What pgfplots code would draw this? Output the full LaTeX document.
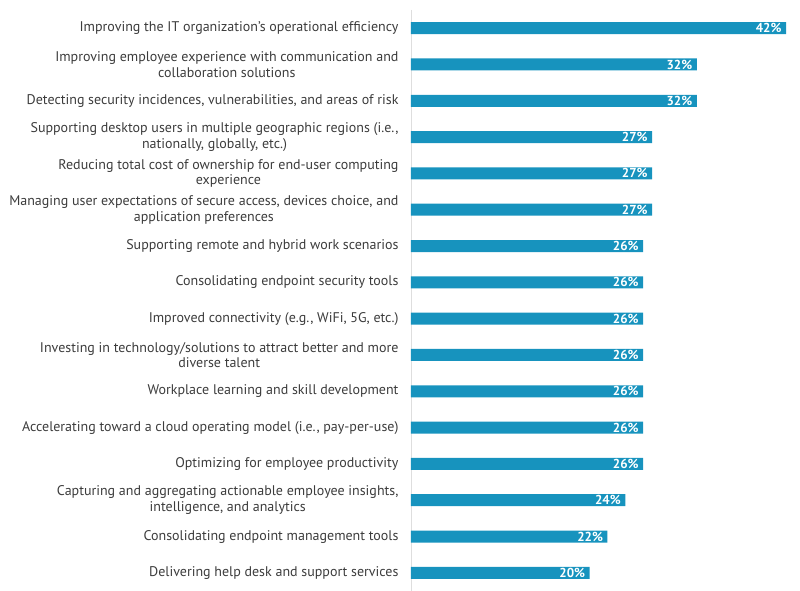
\documentclass[border=0pt]{standalone}
\usepackage{fontspec}
\setmainfont{PT Sans}
\usepackage{pgfplots}
\pgfplotsset{compat=1.18}
\definecolor{barblue}{RGB}{23,147,190}
\definecolor{txt}{RGB}{60,60,60}
\begin{document}
\begin{tikzpicture}
\useasboundingbox (-411pt,0pt) rectangle (389pt,591pt);
\begin{axis}[
  at={(0pt,0pt)}, anchor=south west,
  scale only axis, width=389pt, height=581pt,
  xmin=0, xmax=43.56, ymin=-0.5, ymax=15.5, y dir=reverse,
  xbar, bar width=12pt,
  /pgf/number format/assume math mode=true,
  axis y line=left, axis x line=none, xtick=\empty,
  y axis line style={-, draw=black!13, line width=0.9pt},
  ytick={0,...,15}, major tick length=0pt,
  yticklabels={
    {Improving the IT organization’s operational efficiency},
    {Improving employee experience with communication and\\collaboration solutions},
    {Detecting security incidences, vulnerabilities, and areas of risk},
    {Supporting desktop users in multiple geographic regions (i.e.,\\nationally, globally, etc.)},
    {Reducing total cost of ownership for end-user computing\\experience},
    {Managing user expectations of secure access, devices choice, and\\application preferences},
    {Supporting remote and hybrid work scenarios},
    {Consolidating endpoint security tools},
    {Improved connectivity (e.g., WiFi, 5G, etc.)},
    {Investing in technology/solutions to attract better and more\\diverse talent},
    {Workplace learning and skill development},
    {Accelerating toward a cloud operating model (i.e., pay-per-use)},
    {Optimizing for employee productivity},
    {Capturing and aggregating actionable employee insights,\\intelligence, and analytics},
    {Consolidating endpoint management tools},
    {Delivering help desk and support services}
  },
  yticklabel style={align=center, font=\fontsize{14}{15.5}\selectfont, text=txt, xshift=-9pt},
  nodes near coords={\pgfmathprintnumber{\pgfplotspointmeta}\%},
  nodes near coords style={anchor=east, font=\bfseries\fontsize{13}{14}\selectfont, text=white, xshift=-1pt},
]
\addplot[fill=barblue, draw=none] coordinates {
  (42,0) (32,1) (32,2) (27,3) (27,4) (27,5) (26,6) (26,7)
  (26,8) (26,9) (26,10) (26,11) (26,12) (24,13) (22,14) (20,15)
};
\end{axis}
\end{tikzpicture}
\end{document}
